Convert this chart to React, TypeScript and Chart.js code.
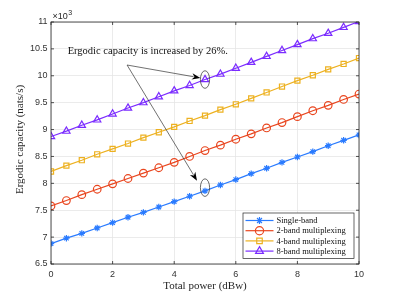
import { useEffect, useRef } from "react";
import { Chart, registerables } from "chart.js";

Chart.register(...registerables);

// ---- data ----
const powerDbw = [0, 0.5, 1, 1.5, 2, 2.5, 3, 3.5, 4, 4.5, 5, 5.5, 6, 6.5, 7, 7.5, 8, 8.5, 9, 9.5, 10];
const singleBand = [6.88, 6.98, 7.07, 7.17, 7.27, 7.37, 7.46, 7.56, 7.66, 7.76, 7.86, 7.97, 8.07, 8.18, 8.28, 8.39, 8.49, 8.59, 8.7, 8.8, 8.9];
const band2 = [7.58, 7.68, 7.79, 7.89, 7.99, 8.09, 8.19, 8.29, 8.39, 8.5, 8.61, 8.71, 8.82, 8.92, 9.03, 9.13, 9.24, 9.35, 9.45, 9.56, 9.66];
const band4 = [8.22, 8.33, 8.43, 8.54, 8.64, 8.74, 8.85, 8.95, 9.05, 9.16, 9.26, 9.37, 9.47, 9.58, 9.69, 9.8, 9.91, 10.01, 10.12, 10.22, 10.33];
const band8 = [8.87, 8.97, 9.08, 9.18, 9.29, 9.4, 9.5, 9.61, 9.72, 9.82, 9.93, 10.03, 10.14, 10.25, 10.36, 10.47, 10.58, 10.69, 10.79, 10.9, 11.01];
const seriesNames = ["Single-band", "2-band multiplexing", "4-band multiplexing", "8-band multiplexing"];
const xTicks = [0, 2, 4, 6, 8, 10];
const yTicks = [6.5, 7, 7.5, 8, 8.5, 9, 9.5, 10, 10.5, 11];
const xTitle = "Total power (dBw)";
const yTitle = "Ergodic capacity (nats/s)";
const annotationText = "Ergodic capacity is increased by 26%.";
const annotationTextAt = { x: 0.54, y: 10.45 };
const arrowFrom = { x: 2.47, y: 10.2 };
const arrowTargets = [
  { x: 4.85, y: 9.96 },
  { x: 4.74, y: 8.05 },
];
const ellipseCenters = [
  { x: 5, y: 9.93 },
  { x: 5, y: 7.92 },
];

const colors = ["#2a7bff", "#e9461f", "#edb120", "#7b2cff"];
const pointStyles = ["star", "circle", "rect", "triangle"];
const pointRadii = [3.2, 3.8, 3.6, 4.2];
const seriesValues = [singleBand, band2, band4, band8];

const SANS = "'Liberation Sans', Arial, sans-serif";
const SERIF = "'Liberation Serif', 'Times New Roman', serif";

function drawMarker(ctx: CanvasRenderingContext2D, style: string, r: number, x: number, y: number, color: string) {
  ctx.save();
  ctx.strokeStyle = color;
  ctx.lineWidth = 1.2;
  ctx.beginPath();
  if (style === "circle") {
    ctx.arc(x, y, r, 0, Math.PI * 2);
  } else if (style === "rect") {
    const s = r * Math.SQRT1_2;
    ctx.rect(x - s, y - s, 2 * s, 2 * s);
  } else if (style === "triangle") {
    const s = (r * 3) / Math.sqrt(3);
    const h = (s * Math.sqrt(3)) / 2;
    ctx.moveTo(x, y - (2 * h) / 3);
    ctx.lineTo(x + s / 2, y + h / 3);
    ctx.lineTo(x - s / 2, y + h / 3);
    ctx.closePath();
  } else {
    for (let k = 0; k < 4; k++) {
      const ang = (k * Math.PI) / 4;
      ctx.moveTo(x - Math.cos(ang) * r, y - Math.sin(ang) * r);
      ctx.lineTo(x + Math.cos(ang) * r, y + Math.sin(ang) * r);
    }
  }
  ctx.stroke();
  ctx.restore();
}

const decorPlugin = {
  id: "decor",
  afterDraw(chart: any) {
    const ctx = chart.ctx as CanvasRenderingContext2D;
    const a = chart.chartArea;
    const xs = chart.scales.x;
    const ys = chart.scales.y;
    ctx.save();

    // axes box
    ctx.strokeStyle = "#262626";
    ctx.lineWidth = 0.8;
    ctx.strokeRect(a.left, a.top, a.right - a.left, a.bottom - a.top);
    // inward ticks
    ctx.beginPath();
    for (const t of xTicks) {
      const px = xs.getPixelForValue(t);
      ctx.moveTo(px, a.bottom);
      ctx.lineTo(px, a.bottom - 3);
      ctx.moveTo(px, a.top);
      ctx.lineTo(px, a.top + 3);
    }
    for (const t of yTicks) {
      const py = ys.getPixelForValue(t);
      ctx.moveTo(a.left, py);
      ctx.lineTo(a.left + 3, py);
      ctx.moveTo(a.right, py);
      ctx.lineTo(a.right - 3, py);
    }
    ctx.stroke();

    // exponent label
    ctx.fillStyle = "#262626";
    ctx.font = `9px ${SANS}`;
    ctx.textAlign = "left";
    ctx.textBaseline = "alphabetic";
    ctx.fillText("\u00d710", a.left + 1.5, a.top - 3);
    const w = ctx.measureText("\u00d710").width;
    ctx.font = `7px ${SANS}`;
    ctx.fillText("3", a.left + 1.5 + w + 0.5, a.top - 7);

    // axis titles
    ctx.fillStyle = "#262626";
    ctx.font = `11px ${SERIF}`;
    ctx.textAlign = "center";
    ctx.textBaseline = "middle";
    ctx.fillText(xTitle, (a.left + a.right) / 2, a.bottom + 22);
    ctx.save();
    ctx.translate(a.left - 31, (a.top + a.bottom) / 2 - 3.5);
    ctx.rotate(-Math.PI / 2);
    ctx.fillText(yTitle, 0, 0);
    ctx.restore();

    // annotation text
    ctx.fillStyle = "#111";
    ctx.font = `10.5px ${SERIF}`;
    ctx.textAlign = "left";
    ctx.textBaseline = "middle";
    ctx.fillText(annotationText, xs.getPixelForValue(annotationTextAt.x), ys.getPixelForValue(annotationTextAt.y));

    // arrows
    const fx = xs.getPixelForValue(arrowFrom.x);
    const fy = ys.getPixelForValue(arrowFrom.y);
    for (const t of arrowTargets) {
      const tx = xs.getPixelForValue(t.x);
      const ty = ys.getPixelForValue(t.y);
      const ang = Math.atan2(ty - fy, tx - fx);
      const hl = 8.5;
      const hw = 3.2;
      ctx.strokeStyle = "#333";
      ctx.lineWidth = 0.7;
      ctx.beginPath();
      ctx.moveTo(fx, fy);
      ctx.lineTo(tx - Math.cos(ang) * hl * 0.8, ty - Math.sin(ang) * hl * 0.8);
      ctx.stroke();
      ctx.fillStyle = "#000";
      ctx.beginPath();
      ctx.moveTo(tx, ty);
      const bx = tx - Math.cos(ang) * hl;
      const by = ty - Math.sin(ang) * hl;
      ctx.lineTo(bx + Math.sin(ang) * hw, by - Math.cos(ang) * hw);
      ctx.lineTo(tx - Math.cos(ang) * hl * 0.7, ty - Math.sin(ang) * hl * 0.7);
      ctx.lineTo(bx - Math.sin(ang) * hw, by + Math.cos(ang) * hw);
      ctx.closePath();
      ctx.fill();
    }

    // ellipses
    ctx.strokeStyle = "#444";
    ctx.lineWidth = 0.8;
    for (const e of ellipseCenters) {
      ctx.beginPath();
      ctx.ellipse(xs.getPixelForValue(e.x), ys.getPixelForValue(e.y), 4.6, 8.8, 0, 0, Math.PI * 2);
      ctx.stroke();
    }

    // legend
    const boxW = 111;
    const boxH = 45.5;
    const bx0 = a.right - 5 - boxW;
    const by0 = a.bottom - 5.5 - boxH;
    ctx.fillStyle = "#fff";
    ctx.fillRect(bx0, by0, boxW, boxH);
    ctx.strokeStyle = "#262626";
    ctx.lineWidth = 0.7;
    ctx.strokeRect(bx0, by0, boxW, boxH);
    ctx.font = `8.5px ${SERIF}`;
    ctx.textAlign = "left";
    ctx.textBaseline = "middle";
    seriesNames.forEach((name, i) => {
      const ry = by0 + 7.5 + i * 10.2;
      ctx.strokeStyle = colors[i];
      ctx.lineWidth = 1.2;
      ctx.beginPath();
      ctx.moveTo(bx0 + 2.5, ry);
      ctx.lineTo(bx0 + 30.5, ry);
      ctx.stroke();
      drawMarker(ctx, pointStyles[i], pointRadii[i] + 0.3, bx0 + 16.5, ry, colors[i]);
      ctx.fillStyle = "#111";
      ctx.fillText(name, bx0 + 33.5, ry + 0.5);
    });

    ctx.restore();
  },
};

export default function App() {
  const ref = useRef<HTMLCanvasElement | null>(null);
  useEffect(() => {
    if (!ref.current) return;
    const chart = new Chart(ref.current, {
      type: "line",
      data: {
        datasets: seriesValues.map((vals, i) => ({
          label: seriesNames[i],
          data: vals.map((v, k) => ({ x: powerDbw[k], y: v })),
          borderColor: colors[i],
          borderWidth: 1.2,
          pointStyle: pointStyles[i] as any,
          pointRadius: pointRadii[i],
          pointBorderColor: colors[i],
          pointBackgroundColor: "rgba(255,255,255,0)",
          pointBorderWidth: 1.2,
          tension: 0,
          fill: false,
        })),
      },
      options: {
        animation: false,
        responsive: false,
        events: [],
        layout: { padding: { top: 22, right: 38, left: 0, bottom: 0 } },
        plugins: { legend: { display: false }, tooltip: { enabled: false } },
        scales: {
          x: {
            type: "linear",
            min: 0,
            max: 10,
            afterBuildTicks: (s: any) => {
              s.ticks = xTicks.map((v) => ({ value: v }));
            },
            afterFit: (s: any) => {
              s.height = 33;
            },
            grid: { color: "#e6e6e6", lineWidth: 0.8, drawTicks: false },
            border: { display: false },
            ticks: {
              padding: 5,
              color: "#333",
              font: { family: SANS, size: 9 },
              maxRotation: 0,
              callback: (v: any) => String(v),
            },
          },
          y: {
            type: "linear",
            min: 6.5,
            max: 11,
            afterBuildTicks: (s: any) => {
              s.ticks = yTicks.map((v) => ({ value: v }));
            },
            afterFit: (s: any) => {
              s.width = 51;
            },
            grid: { color: "#e6e6e6", lineWidth: 0.8, drawTicks: false },
            border: { display: false },
            ticks: {
              padding: 3.5,
              color: "#333",
              font: { family: SANS, size: 9 },
              callback: (v: any) => String(v),
            },
          },
        },
      },
      plugins: [decorPlugin],
    });
    return () => chart.destroy();
  }, []);
  return (
    <div style={{ position: "fixed", left: 0, top: 0, width: 397, height: 297, background: "#fff" }}>
      <canvas ref={ref} width={397} height={297} style={{ width: 397, height: 297, display: "block" }} />
    </div>
  );
}
